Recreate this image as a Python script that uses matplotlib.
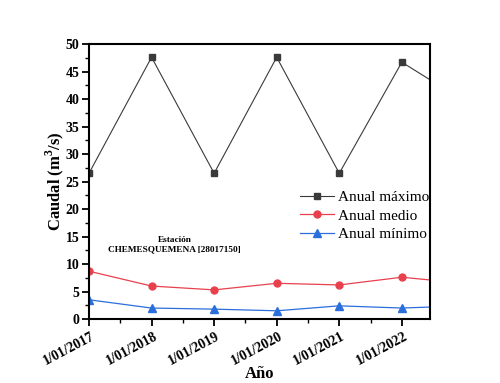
import matplotlib
matplotlib.use("Agg")
import matplotlib.pyplot as plt
from matplotlib.ticker import MultipleLocator
from matplotlib.transforms import ScaledTranslation

plt.rcParams['font.family'] = ['Liberation Serif', 'DejaVu Serif']
plt.rcParams['mathtext.fontset'] = 'custom'
plt.rcParams['mathtext.rm'] = 'Liberation Serif'
plt.rcParams['mathtext.bf'] = 'Liberation Serif:bold'

years = [0, 1, 2, 3, 4, 5, 6]
tick_labels = ["1/01/2017", "1/01/2018", "1/01/2019", "1/01/2020", "1/01/2021", "1/01/2022"]
anual_maximo = [26.5, 47.6, 26.5, 47.6, 26.5, 46.7, 39.6]
anual_medio = [8.7, 6.0, 5.3, 6.5, 6.2, 7.6, 6.5]
anual_minimo = [3.5, 2.0, 1.8, 1.5, 2.4, 2.0, 2.4]

fig = plt.figure(figsize=(5, 3.83), dpi=100)
ax = fig.add_axes([0.178, 0.167, 0.682, 0.718])

ax.plot(years, anual_maximo, color='#3a3a3a', lw=0.8, marker='s', ms=4.5,
        mfc='#3a3a3a', mec='#3a3a3a', label='Anual máximo')
ax.plot(years, anual_medio, color='#e8414d', lw=0.9, marker='o', ms=5,
        mfc='#e8414d', mec='#e8414d', label='Anual medio')
ax.plot(years, anual_minimo, color='#2a6fdb', lw=0.9, marker='^', ms=5.5,
        mfc='#2a6fdb', mec='#2a6fdb', label='Anual mínimo')

ax.set_xlim(0, 5.45)
ax.set_ylim(0, 50)
ax.set_xticks(years[:6])
ax.xaxis.set_minor_locator(MultipleLocator(0.5))
ax.yaxis.set_major_locator(MultipleLocator(5))
ax.yaxis.set_minor_locator(MultipleLocator(2.5))

ax.tick_params(which='major', direction='out', length=5, width=1.3)
ax.tick_params(axis='x', which='major', pad=7)
ax.tick_params(axis='y', which='major', pad=2)
ax.tick_params(which='minor', direction='out', length=3, width=1.0)

ax.set_xticklabels(tick_labels, rotation=28, ha='right', va='center',
                   rotation_mode='anchor', fontsize=10, fontweight='bold')
for lab in ax.get_yticklabels():
    lab.set_fontweight('bold')
    lab.set_fontsize(10)
offset = ScaledTranslation(5 / 100, 0, fig.dpi_scale_trans)
for lab in ax.get_xticklabels():
    lab.set_transform(lab.get_transform() + offset)

for s in ax.spines.values():
    s.set_linewidth(1.5)

ax.set_ylabel('Caudal (m$^\\mathbf{3}$/s)', fontsize=12, fontweight='bold', labelpad=-0.5)
ax.set_xlabel('Año', fontsize=12, fontweight='bold', labelpad=-1)

ax.text(1.37, 13.5, 'Estación\nCHEMESQUEMENA [28017150]', ha='center', va='center',
        fontsize=6.7, fontweight='bold', linespacing=1.25)

leg = ax.legend(loc='center right', bbox_to_anchor=(1.025, 0.375), frameon=False,
                fontsize=11, handlelength=2.2, labelspacing=0.3, borderaxespad=0.2,
                handletextpad=0.3)

fig.savefig('out.png', dpi=100)
